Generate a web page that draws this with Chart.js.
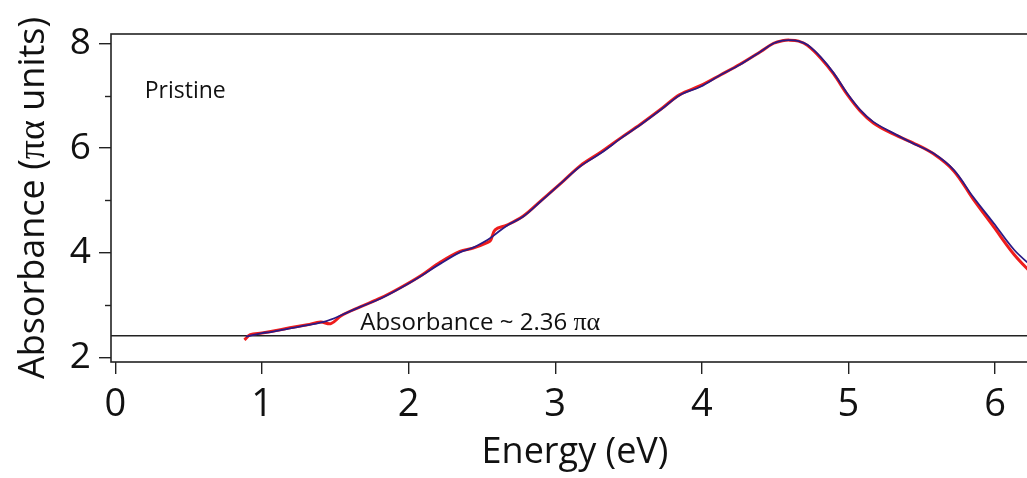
<!DOCTYPE html>
<html>
<head>
<meta charset="utf-8">
<script src="https://cdn.jsdelivr.net/npm/chart.js@4/dist/chart.umd.min.js"></script>
<style>
  html, body { margin: 0; padding: 0; background: #ffffff; overflow: hidden; }
  #wrap { width: 1040px; height: 478px; }
</style>
</head>
<body>
<div id="wrap"><canvas id="c" width="1040" height="478"></canvas></div>
<script>
// ---- data ----
const energyFit = [0.89, 1.00, 1.06, 1.19, 1.31, 1.44, 1.54, 1.67, 1.81, 1.94, 2.08, 2.22, 2.35, 2.44, 2.54, 2.58, 2.67, 2.78, 2.90, 3.04, 3.17, 3.31, 3.45, 3.58, 3.72, 3.85, 3.99, 4.13, 4.26, 4.40, 4.49, 4.55, 4.60, 4.66, 4.72, 4.81, 4.90, 4.99, 5.08, 5.17, 5.29, 5.44, 5.58, 5.72, 5.85, 5.99, 6.13, 6.26];
const absorbanceFit = [2.40, 2.47, 2.49, 2.56, 2.62, 2.70, 2.81, 2.97, 3.13, 3.32, 3.55, 3.80, 4.01, 4.10, 4.25, 4.33, 4.52, 4.69, 4.98, 5.33, 5.65, 5.90, 6.19, 6.44, 6.73, 7.01, 7.17, 7.40, 7.59, 7.84, 8.00, 8.05, 8.06, 8.04, 7.97, 7.74, 7.43, 7.05, 6.73, 6.50, 6.31, 6.09, 5.90, 5.58, 5.07, 4.57, 4.06, 3.72];

const energyData = [0.88, 0.92, 1.00, 1.06, 1.19, 1.31, 1.40, 1.47, 1.54, 1.67, 1.81, 1.94, 2.08, 2.22, 2.35, 2.44, 2.54, 2.56, 2.59, 2.67, 2.78, 2.90, 3.04, 3.17, 3.31, 3.45, 3.58, 3.72, 3.85, 3.99, 4.13, 4.26, 4.40, 4.49, 4.55, 4.60, 4.66, 4.72, 4.81, 4.90, 4.99, 5.08, 5.17, 5.29, 5.44, 5.58, 5.72, 5.85, 5.99, 6.13, 6.26];
const absorbanceData = [2.34, 2.44, 2.47, 2.50, 2.57, 2.63, 2.68, 2.65, 2.80, 2.97, 3.14, 3.33, 3.56, 3.83, 4.03, 4.09, 4.20, 4.24, 4.44, 4.53, 4.70, 4.99, 5.33, 5.66, 5.92, 6.20, 6.45, 6.74, 7.02, 7.19, 7.40, 7.60, 7.84, 8.00, 8.05, 8.06, 8.04, 7.96, 7.72, 7.41, 7.03, 6.71, 6.48, 6.29, 6.10, 5.89, 5.56, 5.03, 4.50, 3.97, 3.58];

const baselineEnergy = [-0.03, 6.3];
const baselineValue = [2.42, 2.42];

const xTicks = [0, 1, 2, 3, 4, 5, 6];
const yTicks = [2, 4, 6, 8];
const yMinorTicks = [3, 5, 7];

const noteSample = 'Pristine';
const noteBaselineText = 'Absorbance ~ 2.36 ';
const greekUnit = '\u03C0\u03B1';
const xTitle = 'Energy (eV)';
const yTitleParts = ['Absorbance (', greekUnit, ' units)'];

// ---- build ----
const pts = (xs, ys) => xs.map((x, i) => ({ x: x, y: ys[i] }));
const FONT = "'Open Sans', 'DejaVu Sans', sans-serif";
const SERIF = "'Liberation Serif', 'DejaVu Serif', serif";

function drawMixed(ctx, parts, fonts, x, y, align) {
  let total = 0;
  const widths = parts.map((p, i) => { ctx.font = fonts[i]; const w = ctx.measureText(p).width; total += w; return w; });
  let cx = align === 'center' ? x - total / 2 : x;
  ctx.textAlign = 'left';
  parts.forEach((p, i) => { ctx.font = fonts[i]; ctx.fillText(p, cx, y); cx += widths[i]; });
}

const framePlugin = {
  id: 'frame',
  afterDraw(chart) {
    const { ctx, chartArea: a, scales } = chart;
    ctx.save();
    ctx.strokeStyle = '#222';
    ctx.lineWidth = 1.6;
    ctx.strokeRect(a.left, a.top, a.right - a.left + 5, a.bottom - a.top);
    // minor y ticks
    ctx.lineWidth = 1.4;
    yMinorTicks.forEach(v => {
      const y = Math.round(scales.y.getPixelForValue(v)) + 0.5;
      ctx.beginPath();
      ctx.moveTo(a.left - 6, y);
      ctx.lineTo(a.left, y);
      ctx.stroke();
    });
    // notes
    ctx.fillStyle = '#111';
    ctx.textBaseline = 'alphabetic';
    ctx.textAlign = 'left';
    ctx.font = '23px ' + FONT;
    ctx.fillText(noteSample, scales.x.getPixelForValue(0.2), scales.y.getPixelForValue(6.956));
    drawMixed(ctx, [noteBaselineText, greekUnit], ['24px ' + FONT, '26px ' + SERIF],
      scales.x.getPixelForValue(1.67), scales.y.getPixelForValue(2.53), 'left');
    // y title (rotated, mixed fonts)
    ctx.save();
    ctx.translate(44, (a.top + a.bottom) / 2);
    ctx.rotate(-Math.PI / 2);
    drawMixed(ctx, yTitleParts, ['36px ' + FONT, '38px ' + SERIF, '36px ' + FONT], 0, 0, 'center');
    ctx.restore();
    ctx.restore();
  }
};

new Chart(document.getElementById('c'), {
  type: 'scatter',
  data: {
    datasets: [
      {
        label: 'fit',
        data: pts(energyFit, absorbanceFit),
        showLine: true,
        borderColor: '#2b1b86',
        borderWidth: 1.8,
        pointRadius: 0,
        tension: 0.35,
        order: 0
      },
      {
        label: 'data',
        data: pts(energyData, absorbanceData),
        showLine: true,
        borderColor: '#ee1c1c',
        borderWidth: 3,
        pointRadius: 0,
        tension: 0.35,
        order: 1
      },
      {
        label: 'baseline',
        data: pts(baselineEnergy, baselineValue),
        showLine: true,
        borderColor: '#222',
        borderWidth: 1.6,
        pointRadius: 0,
        tension: 0,
        order: 2
      }
    ]
  },
  options: {
    responsive: false,
    devicePixelRatio: 1,
    animation: false,
    events: [],
    layout: { padding: { top: 34, right: 1, left: 0, bottom: 0 } },
    plugins: { legend: { display: false }, tooltip: { enabled: false } },
    scales: {
      x: {
        type: 'linear',
        min: -0.03,
        max: 6.3,
        afterBuildTicks: s => { s.ticks = xTicks.map(v => ({ value: v })); },
        afterFit: s => { s.height = 116; },
        grid: { display: true, drawOnChartArea: false, drawTicks: true, tickLength: 12, color: '#222', lineWidth: 1.4 },
        border: { display: false },
        ticks: { color: '#111', font: { family: FONT, size: 38 }, padding: 8, maxRotation: 0, autoSkip: false },
        title: { display: true, text: xTitle, color: '#111', font: { family: FONT, size: 36 }, padding: { top: 0, bottom: 4 } }
      },
      y: {
        type: 'linear',
        min: 1.918,
        max: 8.177,
        afterBuildTicks: s => { s.ticks = yTicks.map(v => ({ value: v })); },
        afterFit: s => { s.width = 111; },
        grid: { display: true, drawOnChartArea: false, drawTicks: true, tickLength: 12, color: '#222', lineWidth: 1.4 },
        border: { display: false },
        ticks: { color: '#111', font: { family: FONT, size: 37 }, padding: 8, autoSkip: false },
        title: { display: false }
      }
    }
  },
  plugins: [framePlugin]
});
</script>
</body>
</html>
